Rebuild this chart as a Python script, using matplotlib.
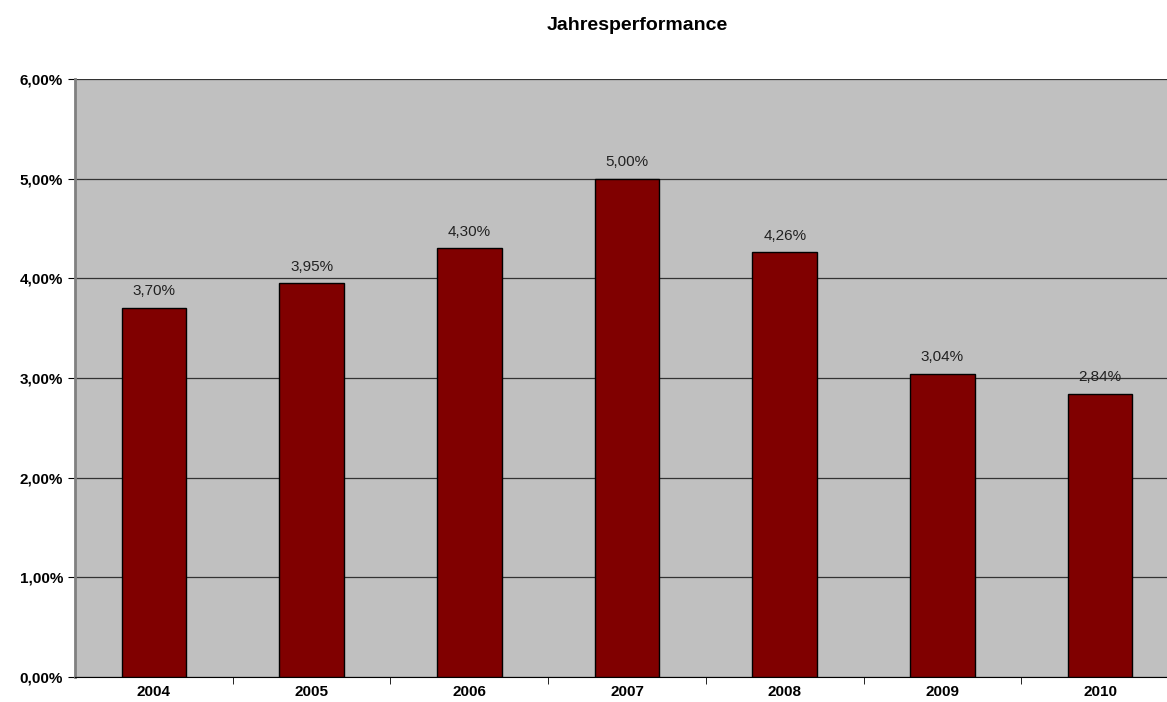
import matplotlib.pyplot as plt
import numpy as np

plt.rcParams['font.family'] = ['Liberation Sans', 'DejaVu Sans']

years = ["2004", "2005", "2006", "2007", "2008", "2009", "2010"]
performance = [3.70, 3.95, 4.30, 5.00, 4.26, 3.04, 2.84]


def de_pct(v):
    return f"{v:.2f}%".replace(".", ",")


fig = plt.figure(figsize=(11.67, 7.02), dpi=100)
# plot area runs a bit past the right edge of the image, as in the original
ax = fig.add_axes([0.0643, 0.0356, 0.946, 0.852])
ax.set_facecolor("#c0c0c0")

x = np.arange(len(years))
ax.bar(x, performance, width=0.41, color="#800000", edgecolor="black", linewidth=1, zorder=3)

for xi, v in zip(x, performance):
    ax.annotate(de_pct(v), (xi, v), xytext=(0, 7), textcoords="offset points",
                ha="center", va="bottom", fontsize=11, color="#222222")

ax.set_xlim(-0.5, len(years) - 0.5)
ax.set_ylim(0, 6)
ax.set_yticks(range(0, 7))
ax.set_yticklabels([de_pct(v) for v in range(0, 7)], fontsize=11, fontweight="bold")
ax.yaxis.grid(True, color="#333333", linewidth=0.9, zorder=1)
ax.set_axisbelow(True)

ax.set_xticks(x)
ax.set_xticklabels(years, fontsize=11, fontweight="bold")
ax.tick_params(axis="x", length=0, pad=6)
ax.set_xticks(np.arange(0.5, len(years) - 0.5), minor=True)
ax.tick_params(axis="x", which="minor", length=5, direction="out", color="black")
ax.tick_params(axis="y", length=5, direction="out", color="black")

for s in ["top", "right"]:
    ax.spines[s].set_visible(False)
ax.spines["left"].set_color("#808080")
ax.spines["left"].set_linewidth(2)
ax.spines["bottom"].set_color("black")

fig.text(0.546, 0.963, "Jahresperformance", fontsize=14, fontweight="bold",
         ha="center", va="center")

fig.savefig("out.png", dpi=100)
